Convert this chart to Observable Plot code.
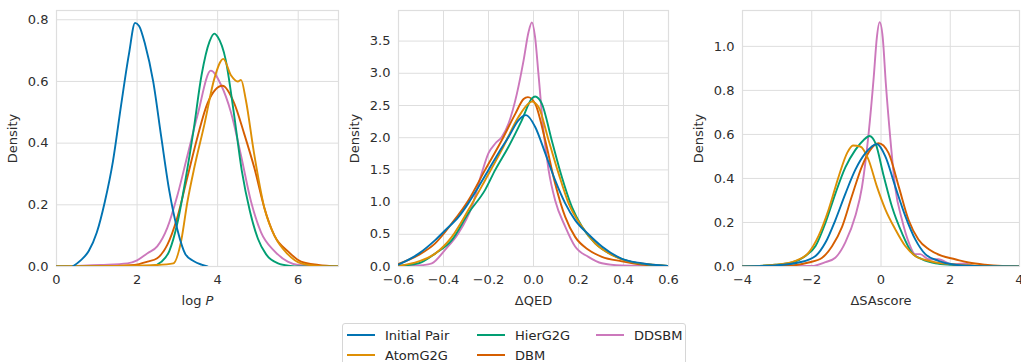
<!DOCTYPE html>
<html><head><meta charset="utf-8">
<script src="https://cdn.jsdelivr.net/npm/d3@7"></script>
<script src="https://cdn.jsdelivr.net/npm/@observablehq/plot@0.6"></script>
<style>
body{margin:0;background:#fff;font-family:"DejaVu Sans",sans-serif;}
#wrap{position:relative;width:1021px;height:362px;overflow:hidden;background:#fff;}
.panel{position:absolute;top:0;}
#legend{position:absolute;left:342px;top:323px;width:344px;height:46px;border:1px solid #d6d6d6;border-radius:3px;box-sizing:border-box;
  display:grid;grid-template-columns:130px 119px 90px;grid-auto-rows:20px;padding:1px 0 0 4px;font-size:13px;color:#262626;}
.item{display:flex;align-items:center;}
.item svg{margin-right:10px;}
</style></head><body><div id="wrap"></div>
<script>
const series = ["Initial Pair", "AtomG2G", "HierG2G", "DBM", "DDSBM"];
const colors = ["#0173B2", "#DE8F05", "#029E73", "#D55E00", "#CC78BC"];

// ---- log P panel ----
const logpInitial = [[0.4,0],[0.6,0.02],[0.8,0.05],[1.0,0.11],[1.2,0.21],[1.4,0.34],[1.6,0.52],[1.8,0.69],[1.95,0.79],[2.05,0.78],[2.2,0.72],[2.4,0.6],[2.6,0.42],[2.8,0.245],[3.0,0.12],[3.2,0.04],[3.4,0.018],[3.6,0.006],[3.75,0]];
const logpAtom = [[0,0],[1.5,0.002],[2.5,0.005],[2.9,0.01],[3.09,0.08],[3.25,0.21],[3.42,0.32],[3.67,0.46],[3.92,0.61],[4.14,0.673],[4.33,0.62],[4.5,0.6],[4.58,0.605],[4.7,0.54],[4.9,0.37],[5.16,0.19],[5.41,0.1],[5.74,0.04],[6.07,0.01],[6.5,0.002],[7,0]];
const logpHier = [[0,0],[2.0,0.0],[2.4,0.003],[2.6,0.015],[2.8,0.05],[3.0,0.14],[3.2,0.28],[3.4,0.44],[3.6,0.62],[3.8,0.73],[3.92,0.755],[4.0,0.745],[4.2,0.67],[4.4,0.5],[4.6,0.31],[4.8,0.18],[5.0,0.09],[5.2,0.04],[5.5,0.01],[5.8,0.002],[6.0,0],[7,0]];
const logpDBM = [[0,0],[1.5,0.002],[1.93,0.005],[2.26,0.016],[2.5,0.027],[2.75,0.07],[3.0,0.16],[3.25,0.29],[3.5,0.42],[3.75,0.53],[4.12,0.586],[4.41,0.53],[4.66,0.43],[4.91,0.32],[5.16,0.19],[5.41,0.1],[5.74,0.05],[6.07,0.016],[6.5,0.005],[7,0]];
const logpDDSBM = [[0,0],[1.1,0.005],[1.76,0.01],[2.0,0.02],[2.26,0.043],[2.5,0.065],[2.75,0.125],[3.0,0.23],[3.25,0.36],[3.5,0.49],[3.83,0.635],[4.08,0.59],[4.33,0.5],[4.58,0.36],[4.83,0.21],[5.08,0.11],[5.41,0.05],[5.74,0.016],[6.0,0.005],[7,0]];

// ---- ΔQED panel ----
const qedInitial = [[-0.6,0.03],[-0.51,0.2],[-0.437,0.41],[-0.39,0.57],[-0.333,0.77],[-0.29,0.98],[-0.244,1.24],[-0.2,1.5],[-0.156,1.76],[-0.111,2.01],[-0.067,2.27],[-0.033,2.35],[0.007,2.17],[0.052,1.76],[0.096,1.34],[0.141,0.98],[0.185,0.72],[0.244,0.5],[0.304,0.31],[0.393,0.12],[0.48,0.05],[0.6,0.01]];
const qedAtom = [[-0.6,0.01],[-0.51,0.08],[-0.437,0.2],[-0.363,0.46],[-0.289,0.88],[-0.215,1.34],[-0.141,1.81],[-0.067,2.32],[-0.022,2.53],[-0.007,2.56],[0.022,2.48],[0.067,1.96],[0.111,1.45],[0.156,0.98],[0.215,0.62],[0.274,0.36],[0.348,0.18],[0.422,0.08],[0.6,0.01]];
const qedHier = [[-0.6,0.01],[-0.51,0.05],[-0.437,0.2],[-0.363,0.41],[-0.289,0.83],[-0.215,1.19],[-0.17,1.5],[-0.111,1.86],[-0.052,2.27],[-0.007,2.61],[0.007,2.64],[0.037,2.53],[0.081,1.96],[0.126,1.39],[0.17,0.93],[0.215,0.62],[0.274,0.36],[0.333,0.21],[0.407,0.1],[0.481,0.04],[0.6,0.01]];
const qedDBM = [[-0.6,0.04],[-0.51,0.18],[-0.437,0.36],[-0.363,0.67],[-0.289,1.03],[-0.215,1.5],[-0.141,1.96],[-0.081,2.37],[-0.044,2.6],[-0.025,2.63],[0.007,2.53],[0.052,1.96],[0.096,1.29],[0.141,0.77],[0.185,0.46],[0.244,0.26],[0.304,0.15],[0.393,0.08],[0.481,0.03],[0.6,0.005]];
const qedDDSBM = [[-0.6,0],[-0.51,0.015],[-0.452,0.05],[-0.393,0.26],[-0.333,0.52],[-0.274,0.93],[-0.23,1.45],[-0.2,1.76],[-0.17,1.91],[-0.141,2.01],[-0.111,2.22],[-0.074,2.68],[-0.044,3.2],[-0.022,3.64],[-0.007,3.79],[0.007,3.56],[0.022,2.99],[0.044,2.12],[0.067,1.5],[0.096,1.03],[0.141,0.62],[0.185,0.31],[0.244,0.15],[0.304,0.05],[0.393,0.015],[0.6,0]];

// ---- ΔSAscore panel ----
const saInitial = [[-4,0],[-3.05,0.005],[-2.38,0.018],[-1.89,0.048],[-1.6,0.11],[-1.32,0.21],[-1.03,0.33],[-0.74,0.44],[-0.45,0.515],[-0.12,0.556],[0.125,0.5],[0.41,0.364],[0.7,0.23],[0.99,0.123],[1.28,0.056],[1.66,0.026],[2.05,0.01],[2.7,0.002],[4,0]];
const saAtom = [[-4,0],[-3.05,0.008],[-2.47,0.026],[-2.09,0.063],[-1.8,0.14],[-1.51,0.26],[-1.22,0.41],[-0.98,0.515],[-0.81,0.55],[-0.6,0.545],[-0.36,0.485],[-0.12,0.364],[0.125,0.26],[0.41,0.17],[0.7,0.093],[0.99,0.048],[1.38,0.026],[1.76,0.014],[2.24,0.008],[3,0.002],[4,0]];
const saHier = [[-4,0],[-3.05,0.008],[-2.57,0.018],[-2.18,0.048],[-1.89,0.093],[-1.6,0.2],[-1.32,0.33],[-1.03,0.45],[-0.74,0.53],[-0.5,0.575],[-0.33,0.593],[-0.16,0.56],[0.08,0.41],[0.32,0.27],[0.61,0.15],[0.89,0.063],[1.18,0.033],[1.57,0.015],[2.05,0.008],[2.7,0.002],[4,0]];
const saDBM = [[-4,0],[-2.57,0.005],[-2.09,0.018],[-1.7,0.04],[-1.41,0.093],[-1.125,0.18],[-0.84,0.32],[-0.55,0.455],[-0.31,0.53],[-0.07,0.56],[0.22,0.515],[0.51,0.364],[0.8,0.21],[1.08,0.123],[1.38,0.078],[1.76,0.048],[2.14,0.033],[2.53,0.018],[3.0,0.008],[3.5,0.002],[4,0]];
const saDDSBM = [[-4,0],[-2.0,0.002],[-1.6,0.02],[-1.32,0.04],[-1.03,0.11],[-0.74,0.23],[-0.55,0.36],[-0.36,0.6],[-0.21,0.86],[-0.12,1.04],[-0.04,1.11],[0.05,1.04],[0.14,0.83],[0.27,0.58],[0.41,0.36],[0.61,0.21],[0.8,0.11],[0.99,0.056],[1.13,0.056],[1.38,0.033],[1.66,0.033],[2.05,0.01],[2.4,0.014],[2.7,0.003],[4,0]];

const logpTicksX = [0, 2, 4, 6];
const logpTicksY = [0, 0.2, 0.4, 0.6, 0.8];
const qedTicksX = [-0.6, -0.4, -0.2, 0, 0.2, 0.4, 0.6];
const qedTicksY = [0, 0.5, 1, 1.5, 2, 2.5, 3, 3.5];
const saTicksX = [-4, -2, 0, 2, 4];
const saTicksY = [0, 0.2, 0.4, 0.6, 0.8, 1.0];

const gridColor = "#dedede";
const wrap = document.getElementById("wrap");

function panel({curves, xDomain, yDomain, xTicks, yTicks, xFmt, yFmt, xLabel, left, width, ml}) {
  // seaborn draws hue levels in reverse, so the first series ends up on top
  const drawOrder = [4, 3, 2, 1, 0];
  const chart = Plot.plot({
    width, height: 300,
    marginLeft: ml, marginRight: 2, marginTop: 10, marginBottom: 34,
    style: {fontFamily: "DejaVu Sans, sans-serif", fontSize: "13px", color: "#2e2e2e", background: "transparent", overflow: "visible"},
    x: {domain: xDomain},
    y: {domain: yDomain},
    marks: [
      Plot.gridX(xTicks, {stroke: gridColor, strokeOpacity: 1, strokeWidth: 1}),
      Plot.gridY(yTicks, {stroke: gridColor, strokeOpacity: 1, strokeWidth: 1}),
      Plot.frame({stroke: gridColor, strokeWidth: 1.2}),
      Plot.axisX(xTicks, {tickSize: 0, tickPadding: 8, tickFormat: xFmt, label: xLabel, labelArrow: "none", labelAnchor: "center", labelOffset: 38}),
      Plot.axisY(yTicks, {tickSize: 0, tickPadding: 8, tickFormat: yFmt, label: "Density", labelArrow: "none", labelAnchor: "center", labelOffset: 49}),
      ...drawOrder.map(i => Plot.line(curves[i], {x: d => d[0], y: d => d[1], stroke: colors[i], strokeWidth: 1.9, curve: "monotone-x", clip: true}))
    ]
  });
  chart.classList.add("panel");
  chart.style.left = left + "px";
  chart.style.position = "absolute";
  // strip any label arrows
  d3.select(chart).selectAll("text").each(function() {
    const t = this.textContent;
    if (/[→↑]/.test(t) && !this.querySelector("tspan")) this.textContent = t.replace(/\s*[→↑]\s*/g, "").trim();
  });
  wrap.appendChild(chart);
  return chart;
}

const f1 = d3.format(".1f");
const p1 = panel({curves: [logpInitial, logpAtom, logpHier, logpDBM, logpDDSBM], xDomain: [0, 7], yDomain: [0, 0.83],
  xTicks: logpTicksX, yTicks: logpTicksY, xFmt: d3.format("d"), yFmt: f1, xLabel: "log P", left: 0, width: 340, ml: 56});
panel({curves: [qedInitial, qedAtom, qedHier, qedDBM, qedDDSBM], xDomain: [-0.6, 0.6], yDomain: [0, 3.975],
  xTicks: qedTicksX, yTicks: qedTicksY, xFmt: f1, yFmt: f1, xLabel: "ΔQED", left: 340, width: 330, ml: 58});
panel({curves: [saInitial, saAtom, saHier, saDBM, saDDSBM], xDomain: [-4, 4], yDomain: [0, 1.163],
  xTicks: saTicksX, yTicks: saTicksY, xFmt: d3.format("d"), yFmt: f1, xLabel: "ΔSAscore", left: 680, width: 341, ml: 62});

// italic P in "log P"
d3.select(p1).selectAll("text").each(function() {
  if (this.textContent.trim() === "log P") {
    this.textContent = "log ";
    d3.select(this).append("tspan").attr("font-style", "italic").text("P");
  }
});

// legend
const legend = document.createElement("div");
legend.id = "legend";
const order = [0, 2, 4, 1, 3];
order.forEach(i => {
  const it = document.createElement("div");
  it.className = "item";
  it.innerHTML = `<svg width="28" height="4"><line x1="0" x2="28" y1="2" y2="2" stroke="${colors[i]}" stroke-width="2"/></svg><span>${series[i]}</span>`;
  legend.appendChild(it);
});
wrap.appendChild(legend);
</script></body></html>
